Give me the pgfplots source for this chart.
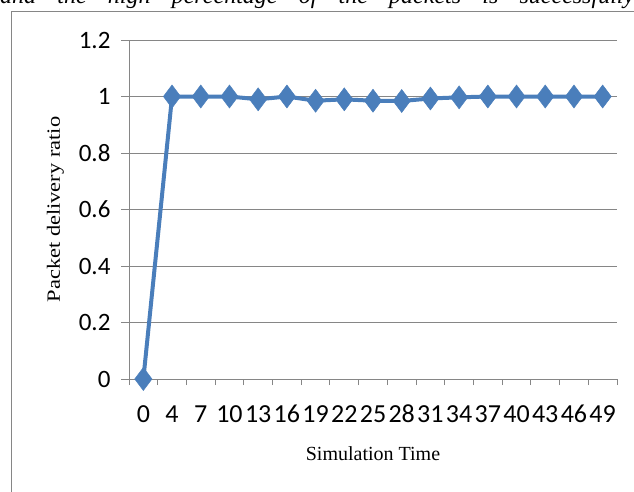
\documentclass[border=0pt]{standalone}
\usepackage{pgfplots}
\pgfplotsset{compat=1.18}
\usepackage{fontspec}
\setmainfont{Liberation Serif}
\newfontfamily\calibri{Carlito}
\definecolor{excelblue}{HTML}{4A7EBB}
\definecolor{gridgray}{HTML}{868686}
\begin{document}
\begin{tikzpicture}[x=1pt,y=1pt]
\clip (0,0) rectangle (634,-492);
\path[use as bounding box] (0,0) rectangle (634,-492);
\node[anchor=base west, inner sep=0pt] at (0,-4) {\fontsize{24}{28}\selectfont\itshape\makebox[634pt][s]{and the high percentage of the packets is successfully}};
\draw[color=gridgray, line width=1.5pt] (11.5,-600) -- (11.5,-11.5) -- (700,-11.5);
\begin{axis}[
  at={(129pt,-379pt)}, anchor=south west,
  scale only axis, width=488pt, height=339pt,
  xmin=-0.5, xmax=16.5, ymin=0, ymax=1.2,
  clip=false,
  axis x line*=bottom, axis y line*=left,
  axis line style={gridgray, line width=1pt, -},
  ymajorgrids, grid style={gridgray, line width=1pt},
  tick align=outside,
  major tick length=8pt, minor tick length=6pt,
  tick style={gridgray, line width=1pt},
  xtick={0,1,...,16},
  xticklabels={0,4,7,10,13,16,19,22,25,28,31,34,37,40,43,46,49},
  minor xtick={-0.5,0.5,...,16.5},
  major x tick style={draw=none},
  ytick={0,0.2,0.4,0.6,0.8,1,1.2},
  yticklabels={0,0.2,0.4,0.6,0.8,1,1.2},
  ticklabel style={font=\calibri\fontsize{25}{30}\selectfont, text=black},
  yticklabel style={xshift=-7pt},
  xticklabel style={anchor=north, yshift=-18pt, text height=17pt, text depth=0pt, inner sep=0pt, font=\calibri\fontsize{26}{30}\selectfont},
  xlabel={\fontsize{20}{24}\selectfont Simulation Time},
  xlabel style={at={(axis description cs:0.5,-0.239)}, anchor=base, inner sep=0pt},
  ylabel={\scalebox{1.2}[1]{\fontsize{18.7}{22}\selectfont Packet delivery ratio}},
  ylabel style={at={(axis description cs:-0.1414,0.5)}, anchor=base, inner sep=0pt},
]
\addplot[color=excelblue, line width=4pt, mark=diamond*, mark size=11.5pt,
  mark options={solid, fill=excelblue, draw=excelblue, line width=0.5pt}]
  coordinates {
  (0,0) (1,1) (2,1) (3,1) (4,0.99) (5,1) (6,0.985) (7,0.99) (8,0.985)
  (9,0.984) (10,0.993) (11,0.997) (12,1) (13,1) (14,1) (15,1) (16,1)
  };
\end{axis}
\end{tikzpicture}
\end{document}
